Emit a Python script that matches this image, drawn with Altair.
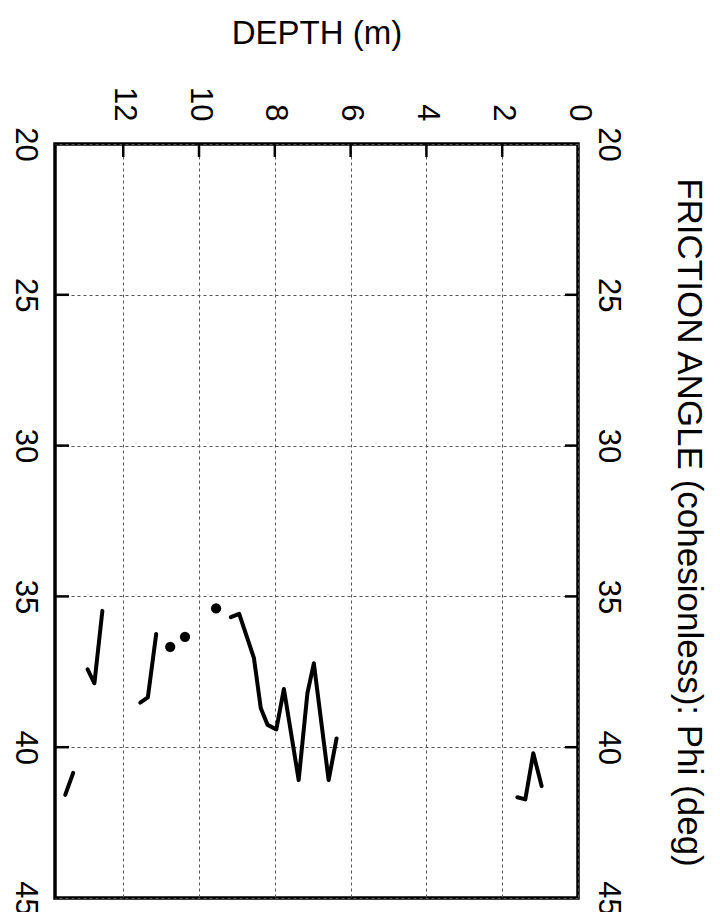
import altair as alt
import pandas as pd

# ---- data (depth in m, friction angle Phi in deg) ----
seg_a_depth = [0.96, 1.18, 1.39, 1.60]
seg_a_phi = [41.29, 40.20, 41.73, 41.66]

seg_b_depth = [6.37, 6.58, 6.97, 7.14, 7.37, 7.76, 7.96, 8.19, 8.37, 8.55, 8.94, 9.16]
seg_b_phi = [39.71, 41.09, 37.22, 38.21, 41.09, 38.07, 39.41, 39.26, 38.71, 37.05, 35.58, 35.69]

seg_c_depth = [11.13, 11.35, 11.55]
seg_c_phi = [36.25, 38.35, 38.52]

seg_d_depth = [12.55, 12.76, 12.94]
seg_d_phi = [35.48, 37.88, 37.42]

seg_e_depth = [13.32, 13.53]
seg_e_phi = [40.85, 41.58]

dot_depth = [9.55, 10.37, 10.76]
dot_phi = [35.40, 36.34, 36.67]

depth_ticks = [0, 2, 4, 6, 8, 10, 12]
phi_ticks = [20, 25, 30, 35, 40, 45]
depth_inner_ticks = [2, 4, 6, 8, 10, 12]
phi_inner_ticks = [25, 30, 35, 40]

segments = {
    "a": (seg_a_depth, seg_a_phi),
    "b": (seg_b_depth, seg_b_phi),
    "c": (seg_c_depth, seg_c_phi),
    "d": (seg_d_depth, seg_d_phi),
    "e": (seg_e_depth, seg_e_phi),
}
rows = []
for k, (ds, ps) in segments.items():
    for d, p in zip(ds, ps):
        rows.append({"seg": k, "depth": d, "phi": p})
lines_df = pd.DataFrame(rows)
dots_df = pd.DataFrame({"depth": dot_depth, "phi": dot_phi})
xt_df = pd.DataFrame({"depth": depth_inner_ticks})
yt_df = pd.DataFrame({"phi": phi_inner_ticks})

W, H = 523, 754
FONT = "Liberation Sans"
LBL = 31

xscale = alt.Scale(domain=[0, 13.8], reverse=True, nice=False, zero=False)
yscale = alt.Scale(domain=[20, 45], reverse=True, nice=False, zero=False)

x_axis = alt.Axis(
    orient="top", values=depth_ticks, labelAngle=90, labelAlign="right",
    labelBaseline="middle", labelPadding=23, ticks=False, tickSize=0,
    domain=False, grid=True, gridDash=[3, 3], gridColor="#555555", gridWidth=1,
    labelFontSize=LBL, labelFont=FONT, labelColor="black",
    title="DEPTH (m)", titleFontSize=33, titleFont=FONT, titleFontWeight="normal",
    titleColor="black", titleX=W / 2, titleY=-101, titleAlign="center",
    titleBaseline="alphabetic", titleAngle=0,
)
y_left = alt.Axis(
    orient="left", values=phi_ticks, labelAngle=90, labelAlign="center",
    labelBaseline="top", labelPadding=16, ticks=False, tickSize=0,
    domain=False, grid=True, gridDash=[3, 3], gridColor="#555555", gridWidth=1,
    labelFontSize=LBL, labelFont=FONT, labelColor="black", title=None,
)
y_right = alt.Axis(
    orient="right", values=phi_ticks, labelAngle=90, labelAlign="center",
    labelBaseline="bottom", labelPadding=13, ticks=False, tickSize=0,
    domain=False, grid=False,
    labelFontSize=LBL, labelFont=FONT, labelColor="black",
    title="FRICTION ANGLE (cohesionless): Phi (deg)", titleFontSize=35,
    titleFont=FONT, titleFontWeight="normal", titleColor="black",
    titleAngle=90, titleX=110, titleY=H / 2 + 1, titleAlign="center",
    titleBaseline="middle",
)

lines = alt.Chart(lines_df).mark_line(
    color="black", strokeWidth=4, strokeJoin="round", strokeCap="round"
).encode(
    x=alt.X("depth:Q", scale=xscale, axis=x_axis),
    y=alt.Y("phi:Q", scale=yscale, axis=y_left),
    detail="seg:N",
    order="depth:Q",
)

dots = alt.Chart(dots_df).mark_circle(color="black", size=105, opacity=1).encode(
    x=alt.X("depth:Q", scale=xscale),
    y=alt.Y("phi:Q", scale=yscale, axis=y_right),
)

top_ticks = alt.Chart(xt_df).mark_rule(color="black", strokeWidth=2.5).encode(
    x=alt.X("depth:Q", scale=xscale),
    y=alt.value(0), y2=alt.value(13),
)
left_ticks = alt.Chart(yt_df).mark_rule(color="black", strokeWidth=2.5).encode(
    y=alt.Y("phi:Q", scale=yscale, axis=None),
    x=alt.value(0), x2=alt.value(14),
)
right_ticks = alt.Chart(yt_df).mark_rule(color="black", strokeWidth=2.5).encode(
    y=alt.Y("phi:Q", scale=yscale, axis=None),
    x=alt.value(W - 13), x2=alt.value(W),
)

chart = alt.layer(lines, dots, top_ticks, left_ticks, right_ticks).resolve_axis(
    y="independent"
).properties(
    width=W, height=H,
    autosize=alt.AutoSizeParams(type="none"),
    padding={"left": 47, "top": 136, "right": 132, "bottom": 14},
).configure_view(
    stroke="black", strokeWidth=3.5
)

chart.save("out.html", embed_options={"renderer": "svg", "actions": False})
